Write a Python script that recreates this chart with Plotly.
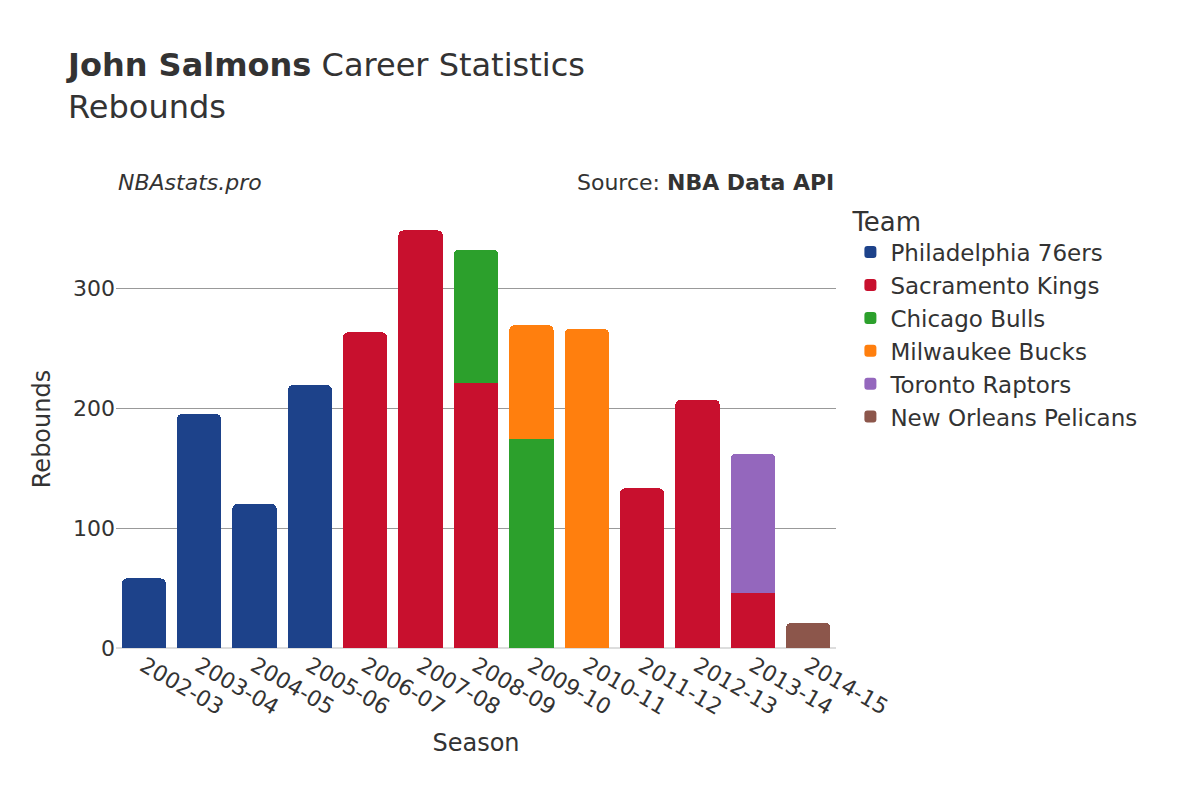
import plotly.graph_objects as go

seasons = ["2002-03", "2003-04", "2004-05", "2005-06", "2006-07", "2007-08", "2008-09",
           "2009-10", "2010-11", "2011-12", "2012-13", "2013-14", "2014-15"]

teams = ["Philadelphia 76ers", "Sacramento Kings", "Chicago Bulls",
         "Milwaukee Bucks", "Toronto Raptors", "New Orleans Pelicans"]
colors = ["#1D428A", "#C8102E", "#2CA02C", "#FF7F0E", "#9467BD", "#8C564B"]

phi = [58, 195, 120, 219, None, None, None, None, None, None, None, None, None]
sac = [None, None, None, None, 263, 348, 221, None, None, 133, 207, 46, None]
chi = [None, None, None, None, None, None, 111, 174, None, None, None, None, None]
mil = [None, None, None, None, None, None, None, 95, 266, None, None, None, None]
tor = [None, None, None, None, None, None, None, None, None, None, None, 116, None]
nop = [None, None, None, None, None, None, None, None, None, None, None, None, 21]
values = [phi, sac, chi, mil, tor, nop]

fig = go.Figure()
for team, color, vals in zip(teams, colors, values):
    fig.add_trace(go.Bar(x=seasons, y=vals, name=team, marker_color=color,
                         marker_line_width=0))

fig.update_layout(
    width=1200, height=800,
    barmode="stack", bargap=0.2, barcornerradius=5,
    plot_bgcolor="white", paper_bgcolor="white",
    font=dict(family="DejaVu Sans", color="#333", size=20),
    title=dict(text="<b>John Salmons</b> Career Statistics<br>Rebounds",
               x=0.05, xanchor="left", y=0.915, yanchor="top", font=dict(size=32)),
    margin=dict(l=108, r=372, t=202, b=160),
    legend=dict(title=dict(text="Team", font=dict(size=26)), font=dict(size=23),
                traceorder="normal", itemsizing="constant",
                x=1.02, y=1.03, yanchor="top"),
    xaxis=dict(title=dict(text="Season", font=dict(size=24)), tickangle=30,
               type="category", tickfont=dict(size=22), automargin=False),
    yaxis=dict(title=dict(text="Rebounds", font=dict(size=24)), range=[0, 365],
               gridcolor="#999", tickfont=dict(size=22), dtick=100,
               zeroline=True, zerolinecolor="#ddd"),
    annotations=[
        dict(text="<i>NBAstats.pro</i>", x=0, y=1.03, xref="paper", yref="paper",
             xanchor="left", yanchor="bottom", showarrow=False, font=dict(size=22)),
        dict(text="Source: <b>NBA Data API</b>", x=1, y=1.03, xref="paper", yref="paper",
             xanchor="right", yanchor="bottom", showarrow=False, font=dict(size=22)),
    ],
)

fig.write_html("out.html")
